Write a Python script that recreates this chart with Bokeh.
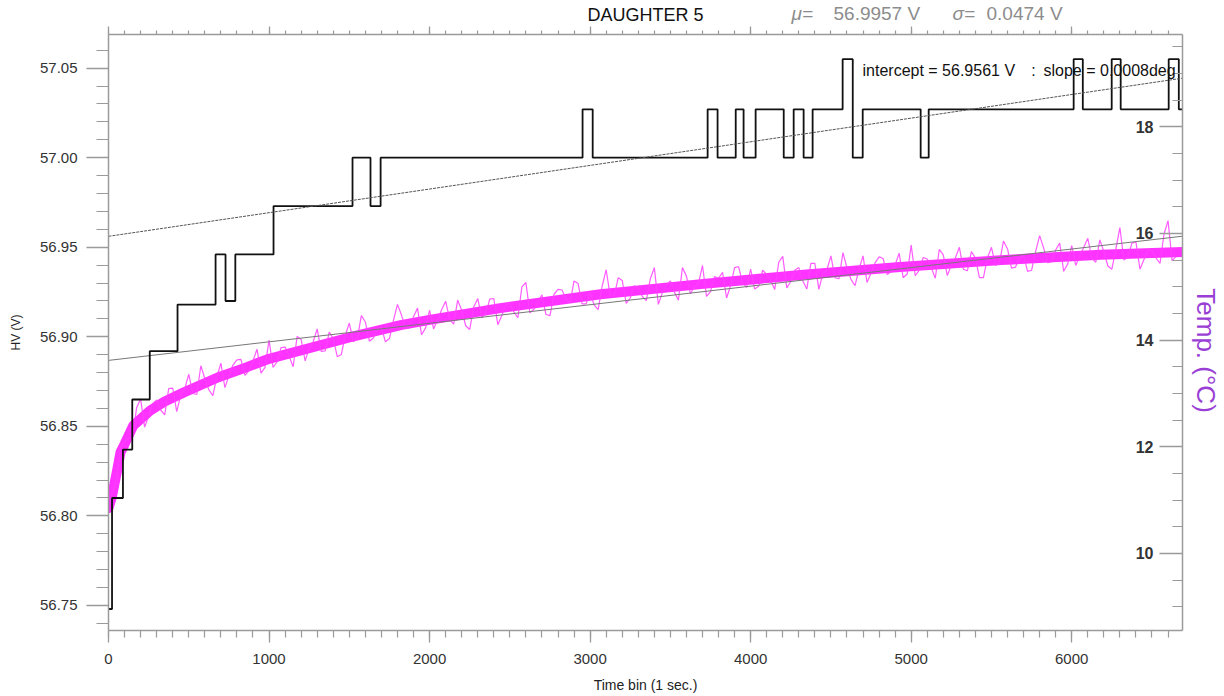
import math
from bokeh.plotting import figure
from bokeh.layouts import column
from bokeh.models import Range1d, LinearAxis, FixedTicker, Label, PrintfTickFormatter
from bokeh.embed import file_html
from bokeh.resources import INLINE
from bokeh.core.properties import value

# ---------------- data ----------------
# HV (V): step levels; each level holds from its start time until the next one
hv_t = [0, 22, 90, 148, 257, 430, 667, 729, 790, 1028, 1520, 1632, 1695, 2953,
        3016, 3732, 3794, 3907, 3956, 4031, 4206, 4268, 4330, 4386, 4573, 4636,
        4698, 5059, 5109, 6012, 6069, 6249, 6305, 6604, 6667, 6690]
hv_v = [56.748, 56.810, 56.837, 56.865, 56.892, 56.918, 56.946, 56.920, 56.946,
        56.973, 57.000, 56.973, 57.000, 57.027, 57.000, 57.027, 57.000, 57.027,
        57.000, 57.027, 57.000, 57.027, 57.000, 57.027, 57.055, 57.000, 57.027,
        57.000, 57.027, 57.055, 57.027, 57.055, 57.027, 57.055, 57.027, 57.027]

# Temperature (deg C) readings at t = 0, 50, 100, ...
temp_t_a = list(range(0, 6651, 50))
temp_v_a = [10.85, 11.38, 12.10, 12.17, 12.90, 12.57, 12.88, 12.60, 13.10, 12.97,
            13.36, 12.98, 13.28, 12.96, 13.57, 13.33, 13.63, 13.34, 13.61, 13.38,
            14.00, 13.59, 13.87, 13.50, 14.01, 13.85, 14.21, 13.80, 14.03, 13.73,
            14.32, 14.03, 14.34, 14.04, 14.24, 14.03, 14.67, 14.22, 14.44, 14.10,
            14.56, 14.38, 14.73, 14.30, 14.56, 14.20, 14.78, 14.50, 14.78, 14.46,
            14.69, 14.42, 15.08, 14.58, 14.85, 14.46, 14.95, 14.77, 15.11, 14.68,
            14.89, 14.57, 15.32, 14.82, 15.12, 14.79, 14.98, 14.74, 15.36, 14.89,
            15.11, 14.75, 15.20, 15.01, 15.40, 14.91, 15.16, 14.79, 15.36, 15.07,
            15.33, 15.01, 15.23, 14.95, 15.57, 15.10, 15.36, 14.96, 15.44, 15.25,
            15.58, 15.15, 15.35, 15.02, 15.58, 15.26, 15.56, 15.23, 15.41, 15.17,
            15.78, 15.31, 15.52, 15.16, 15.60, 15.41, 15.74, 15.30, 15.54, 15.17,
            15.74, 15.45, 15.71, 15.37, 15.59, 15.31, 15.96, 15.45, 15.69, 15.29,
            15.77, 15.58, 15.91, 15.46, 15.66, 15.33, 16.11, 15.56, 15.84, 15.51,
            15.68, 15.44, 16.24, 15.57]
# Temperature (deg C) readings at t = 25, 75, 125, ...
temp_t_b = list(range(25, 6626, 50))
temp_v_b = [11.15, 12.00, 12.16, 12.73, 12.37, 12.81, 12.69, 13.09, 12.66, 13.09,
            13.00, 13.52, 13.07, 13.31, 13.11, 13.53, 13.64, 13.43, 13.83, 13.49,
            13.49, 13.86, 13.70, 14.07, 13.61, 13.97, 13.79, 14.15, 13.69, 14.09,
            13.97, 14.46, 13.98, 14.20, 13.97, 14.37, 14.47, 14.23, 14.60, 14.23,
            14.21, 14.57, 14.39, 14.75, 14.27, 14.62, 14.42, 14.77, 14.29, 14.67,
            14.53, 15.00, 14.51, 14.72, 14.48, 14.86, 14.94, 14.70, 15.06, 14.68,
            14.66, 15.01, 14.83, 15.17, 14.69, 15.02, 14.82, 15.15, 14.67, 15.04,
            14.90, 15.36, 14.87, 15.06, 14.82, 15.19, 15.27, 15.02, 15.38, 14.99,
            14.96, 15.31, 15.12, 15.46, 14.98, 15.31, 15.11, 15.44, 14.95, 15.32,
            15.17, 15.64, 15.14, 15.33, 15.08, 15.45, 15.53, 15.28, 15.63, 15.24,
            15.21, 15.55, 15.36, 15.70, 15.21, 15.54, 15.33, 15.66, 15.17, 15.54,
            15.40, 15.86, 15.35, 15.54, 15.29, 15.66, 15.73, 15.47, 15.82, 15.43,
            15.40, 15.74, 15.54, 15.88, 15.39, 15.71, 15.50, 15.82, 15.33, 15.69,
            15.54, 15.99, 15.49]
# centre of the dense temperature band
band_t = [0, 20, 50, 75, 100, 155, 260, 350, 470, 680, 850, 1000, 1500, 1820,
          2000, 2440, 3065, 3690, 4310, 4930, 5560, 6180, 6690]
band_v = [10.85, 11.05, 11.50, 11.90, 12.05, 12.40, 12.68, 12.85, 13.02, 13.30,
          13.48, 13.65, 14.05, 14.28, 14.38, 14.60, 14.86, 15.05, 15.22, 15.37,
          15.50, 15.60, 15.65]

# linear fits
fit_t = [0, 6690]
hv_fit_intercept, hv_fit_slope = 56.9561, 1.32e-5
temp_fit_intercept, temp_fit_slope = 13.62, 3.48e-4

# axes
x_start, x_end = 0, 6690
hv_start, hv_end = 56.7360, 57.0688
temp_start, temp_end = 8.556, 19.73
time_ticks = [0, 1000, 2000, 3000, 4000, 5000, 6000]
time_minor = list(range(0, 6700, 100))
hv_ticks = [56.75, 56.80, 56.85, 56.90, 56.95, 57.00, 57.05]
hv_minor = [round(56.74 + 0.01 * k, 2) for k in range(34)]
temp_ticks = [10, 12, 14, 16, 18]
temp_labels = ["10", "12", "14", "16", "18"]
temp_minor = [8.5 + 0.5 * k for k in range(23)]

title_text = "DAUGHTER 5"
mu_text = ["\u03bc=", "56.9957 V"]
sigma_text = ["\u03c3=", "0.0474 V"]
fit_text = ["intercept = 56.9561 V", ":", "slope = 0.0008deg"]

# derived tables
temp_pairs = sorted(zip(temp_t_a + temp_t_b, temp_v_a + temp_v_b))
temp_t = [a for a, b in temp_pairs]
temp_v = [b for a, b in temp_pairs]
hv_fit = [hv_fit_intercept + hv_fit_slope * t for t in fit_t]
temp_fit = [temp_fit_intercept + temp_fit_slope * t for t in fit_t]

# ---------------- layout (canvas: frame x 108..1182, y 34..630) ----------
W, H = 1224, 696
TOP_H = 26
FL, FR, FT, FB = 108, 1182, 34, 630
def cx(px):
    return x_start + (px - FL) / (FR - FL) * (x_end - x_start)
def cy(py):
    return hv_end - (py - FT) / (FB - FT) * (hv_end - hv_start)

FONT = "Liberation Sans"
AX = "#9a9a9a"

# ---- header strip with the title texts ----
top = figure(width=W, height=TOP_H, output_backend="svg", toolbar_location=None,
             x_range=Range1d(x_start, x_end), y_range=Range1d(0, TOP_H),
             x_axis_location=None, y_axis_location=None,
             min_border_left=FL, min_border_right=W - FR, min_border_top=0,
             min_border_bottom=0)
top.outline_line_color = None
top.grid.grid_line_color = None

def tlab(txt, px, py, size, color="#111111", align="left", style="normal"):
    top.add_layout(Label(x=cx(px), y=TOP_H - py, text=txt, text_font=FONT,
                         text_font_size=size, text_color=color, text_align=align,
                         text_baseline="middle", text_font_style=style))

tlab(title_text, 645, 14, "18px", align="center")
tlab(mu_text[0], 791, 13, "19px", color="#8c8c8c", style="italic")
tlab(mu_text[1], 833, 13, "19px", color="#8c8c8c")
tlab(sigma_text[0], 952, 13, "19px", color="#8c8c8c", style="italic")
tlab(sigma_text[1], 986, 13, "19px", color="#8c8c8c")

# ---- main plot ----
p = figure(width=W, height=H - TOP_H, output_backend="svg", toolbar_location=None,
           x_range=Range1d(x_start, x_end), y_range=Range1d(hv_start, hv_end),
           x_axis_location=None, y_axis_location=None,
           min_border_left=FL, min_border_right=W - FR, min_border_top=FT - TOP_H,
           min_border_bottom=H - FB)
p.extra_y_ranges = {"temp": Range1d(temp_start, temp_end)}
p.outline_line_color = None
p.grid.grid_line_color = None

xb = LinearAxis(ticker=FixedTicker(ticks=time_ticks, minor_ticks=time_minor))
xb.axis_label = "Time bin (1 sec.)"
xt = LinearAxis(ticker=FixedTicker(ticks=time_ticks, minor_ticks=time_minor))
yl = LinearAxis(ticker=FixedTicker(ticks=hv_ticks, minor_ticks=hv_minor),
                formatter=PrintfTickFormatter(format="%.2f"))
yl.axis_label = "HV (V)"
yr = LinearAxis(y_range_name="temp",
                ticker=FixedTicker(ticks=temp_ticks, minor_ticks=temp_minor))
yr.axis_label = "\u00a0\u00a0\u00a0\u00a0\u00a0Temp. (\u00b0C)"

for ax in (xb, xt, yl, yr):
    ax.axis_line_color = AX
    ax.axis_line_width = 1.5
    ax.major_tick_line_color = AX
    ax.minor_tick_line_color = AX
    ax.major_tick_line_width = 1.3
    ax.minor_tick_line_width = 1.2
    ax.major_label_text_font = FONT
    ax.major_label_text_color = "#333333"
    ax.axis_label_text_font = FONT
    ax.axis_label_text_font_style = "normal"
    ax.axis_label_text_color = "#222222"

xb.major_tick_in, xb.major_tick_out = 0, 12
xb.minor_tick_in, xb.minor_tick_out = 0, 7
xb.major_label_text_font_size = "15px"
xb.major_label_standoff = 11
xb.axis_label_text_font_size = "14px"
xb.axis_label_standoff = 10

xt.major_tick_in, xt.major_tick_out = 0, 8
xt.minor_tick_in, xt.minor_tick_out = 0, 4
xt.major_label_text_font_size = "0px"
xt.major_label_text_alpha = 0
xt.major_label_standoff = 0

yl.major_tick_in, yl.major_tick_out = 0, 22
yl.minor_tick_in, yl.minor_tick_out = 0, 12
yl.major_label_text_font_size = "15px"
yl.major_label_standoff = 9
yl.axis_label_text_font_size = "12px"
yl.axis_label_standoff = 14

yr.major_tick_in, yr.major_tick_out = 23, 0
yr.minor_tick_in, yr.minor_tick_out = 10, 0
yr.major_label_text_font_size = "0px"
yr.major_label_text_alpha = 0
yr.major_label_standoff = 0
yr.axis_label_text_font_size = "26px"
yr.axis_label_text_color = "#9a3fd5"
yr.axis_label_standoff = 8

p.add_layout(xb, "below")
p.add_layout(xt, "above")
p.add_layout(yl, "left")
p.add_layout(yr, "right")

# series
p.line(band_t, band_v, y_range_name="temp", line_width=10, line_color="#ff00ff",
       line_alpha=0.8, line_join="round", line_cap="round")
p.line(temp_t, temp_v, y_range_name="temp", line_width=1.2, line_color="#ff40ff",
       line_alpha=0.85)
p.line(fit_t, temp_fit, y_range_name="temp", line_width=1, line_color="#777777")
p.step(hv_t, hv_v, mode="after", line_width=1.8, line_color="#111111")
p.line(fit_t, hv_fit, line_width=1, line_color="#555555", line_dash="3 1")

# right-axis tick labels drawn inside the frame
p.text(x=[cx(1153)] * len(temp_ticks), y=temp_ticks, text=temp_labels,
       y_range_name="temp", text_align="right", text_baseline="middle",
       text_font=value(FONT), text_font_size=value("16px"), text_font_style="bold",
       text_color="#333333")

def lab(txt, px, py, size, color="#111111", align="left"):
    p.add_layout(Label(x=cx(px), y=cy(py), text=txt, text_font=FONT,
                       text_font_size=size, text_color=color, text_align=align,
                       text_baseline="middle"))

lab(fit_text[0], 862, 70, "16px")
lab(fit_text[1], 1033, 70, "16px", align="center")
lab(fit_text[2], 1043, 70, "16px")

layout = column(top, p, spacing=0)
open("out.html", "w").write(file_html(layout, INLINE))
